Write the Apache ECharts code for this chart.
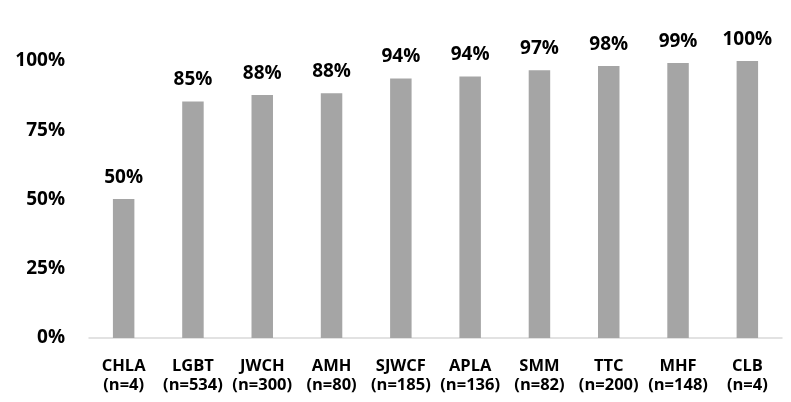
<!DOCTYPE html>
<html>
<head>
<meta charset="utf-8">
<script src="https://cdn.jsdelivr.net/npm/echarts@6/dist/echarts.min.js"></script>
<style>html,body{margin:0;padding:0;background:#fff}#c{width:791px;height:402px}</style>
</head>
<body>
<div id="c"></div>
<script>
const categories = ['CHLA', 'LGBT', 'JWCH', 'AMH', 'SJWCF', 'APLA', 'SMM', 'TTC', 'MHF', 'CLB'];
const sampleSizes = ['(n=4)', '(n=534)', '(n=300)', '(n=80)', '(n=185)', '(n=136)', '(n=82)', '(n=200)', '(n=148)', '(n=4)'];
const values = [50.2, 85.4, 87.7, 88.4, 93.7, 94.4, 96.7, 98.2, 99.3, 100];
const yTicks = [0, 25, 50, 75, 100];

const FONT = 'Open Sans';
const chart = echarts.init(document.getElementById('c'), null, {renderer: 'canvas'});
chart.setOption({
  animation: false,
  grid: {left: 89, right: 9, top: 61, bottom: 64, containLabel: false},
  xAxis: {
    type: 'category',
    data: categories.map((c, i) => c + '\n' + sampleSizes[i]),
    axisLine: {show: true, lineStyle: {color: '#D9D9D9', width: 1.5}},
    axisTick: {show: false},
    axisLabel: {
      interval: 0, color: '#000', fontFamily: FONT, fontWeight: 'bold', fontSize: 16.5,
      lineHeight: 19, margin: 19
    }
  },
  yAxis: {
    type: 'value', min: 0, max: 100, interval: 25,
    axisLine: {show: false}, axisTick: {show: false},
    splitLine: {show: false},
    axisLabel: {
      color: '#000', fontFamily: FONT, fontWeight: 'bold', fontSize: 19, margin: 24,
      formatter: v => yTicks.includes(v) ? v + '%' : ''
    }
  },
  series: [{
    type: 'bar',
    data: values,
    barWidth: '31%',
    itemStyle: {color: '#A5A5A5'},
    label: {
      show: true, position: 'top', distance: 12,
      color: '#000', fontFamily: FONT, fontWeight: 'bold', fontSize: 19,
      formatter: p => Math.round(p.value) + '%'
    }
  }]
});
</script>
</body>
</html>
